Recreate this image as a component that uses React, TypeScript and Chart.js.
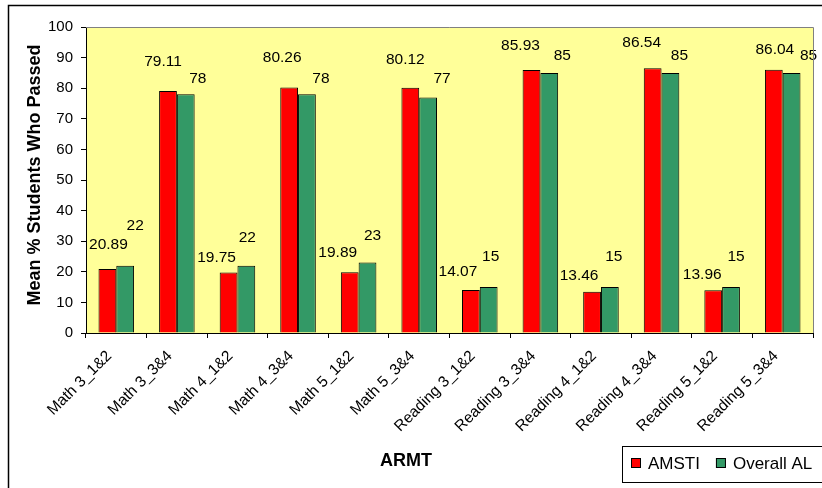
import { useEffect, useRef } from "react";
import { Chart, registerables } from "chart.js";

Chart.register(...registerables);

const FONT = '"Liberation Sans", Arial, Helvetica, sans-serif';

// ARMT result groups
const categories = [
  "Math 3_1&2",
  "Math 3_3&4",
  "Math 4_1&2",
  "Math 4_3&4",
  "Math 5_1&2",
  "Math 5_3&4",
  "Reading 3_1&2",
  "Reading 3_3&4",
  "Reading 4_1&2",
  "Reading 4_3&4",
  "Reading 5_1&2",
  "Reading 5_3&4",
];

// Mean % of students who passed
const amstiValues = [20.89, 79.11, 19.75, 80.26, 19.89, 80.12, 14.07, 85.93, 13.46, 86.54, 13.96, 86.04];
const overallValues = [22, 78, 22, 78, 23, 77, 15, 85, 15, 85, 15, 85];

const seriesNames = ["AMSTI", "Overall AL"];
const seriesColors = ["#FF0000", "#339966"];

// Value axis range
const yMin = 0;
const yMax = 100;
const yStep = 10;

// Hand-placed value labels: [dx, dy] in px from the top centre of each bar
const amstiLabelNudge = [
  [1, -24], [-5, -29], [-12, -15], [-7, -30], [-12, -19], [-5, -28],
  [-13, -18], [-11, -24], [-13, -16], [-11, -25], [-11, -16], [1, -20],
];
const overallLabelNudge = [
  [10, -40], [12, -16], [1, -28], [14, -16], [5, -27], [14, -19],
  [2, -30], [13, -17], [4, -30], [9, -17], [5, -30], [17, -17],
];

const chartDecor = {
  id: "chartDecor",
  beforeDraw(chart: any) {
    const { ctx, chartArea: a, width, height } = chart;
    ctx.save();
    ctx.fillStyle = "#FFFFFF";
    ctx.fillRect(0, 0, width, height);
    // outer chart frame
    ctx.strokeStyle = "#000000";
    ctx.lineWidth = 1.5;
    ctx.beginPath();
    ctx.moveTo(8.5, height + 2);
    ctx.lineTo(8.5, 5.5);
    ctx.lineTo(width + 2, 5.5);
    ctx.stroke();
    // plot area fill
    ctx.fillStyle = "#FFFF99";
    ctx.fillRect(a.left, a.top, a.right - a.left, a.bottom - a.top);
    ctx.restore();
  },
  afterDatasetsDraw(chart: any) {
    const { ctx } = chart;
    const nudges = [amstiLabelNudge, overallLabelNudge];
    ctx.save();
    ctx.font = `15.5px ${FONT}`;
    ctx.fillStyle = "#000000";
    ctx.textAlign = "center";
    ctx.textBaseline = "middle";
    chart.data.datasets.forEach((ds: any, i: number) => {
      const meta = chart.getDatasetMeta(i);
      meta.data.forEach((bar: any, j: number) => {
        const [dx, dy] = nudges[i][j];
        ctx.fillText(String(ds.data[j]), bar.x + dx, bar.y + dy);
      });
    });
    ctx.restore();
  },
  afterDraw(chart: any) {
    const { ctx, chartArea: a } = chart;
    ctx.save();
    // grey top and right edges of the plot area
    ctx.strokeStyle = "#808080";
    ctx.lineWidth = 1;
    ctx.beginPath();
    ctx.moveTo(a.left, a.top + 0.5);
    ctx.lineTo(a.right + 0.5, a.top + 0.5);
    ctx.lineTo(a.right + 0.5, a.bottom);
    ctx.stroke();

    // axis titles
    ctx.fillStyle = "#000000";
    ctx.font = `bold 18px ${FONT}`;
    ctx.textAlign = "center";
    ctx.textBaseline = "middle";
    ctx.fillText("ARMT", 406, 461);
    ctx.save();
    ctx.translate(35, 175);
    ctx.rotate(-Math.PI / 2);
    ctx.fillText("Mean % Students Who Passed", 0, 0);
    ctx.restore();

    // legend
    const bx = 622.5;
    const by = 446.5;
    ctx.strokeStyle = "#000000";
    ctx.lineWidth = 1;
    ctx.strokeRect(bx, by, 230, 36);
    ctx.font = `17px ${FONT}`;
    ctx.textAlign = "left";
    ctx.textBaseline = "middle";
    let x = 631;
    const cy = 463;
    chart.data.datasets.forEach((ds: any) => {
      ctx.fillStyle = ds.backgroundColor;
      ctx.fillRect(x, cy - 5, 10, 10);
      ctx.strokeStyle = "#000000";
      ctx.strokeRect(x + 0.5, cy - 5 + 0.5, 9, 9);
      ctx.fillStyle = "#000000";
      ctx.fillText(ds.label, x + 17, cy + 1);
      x += 17 + ctx.measureText(ds.label).width + 16;
    });
    ctx.restore();
  },
};

export default function App() {
  const canvasRef = useRef<HTMLCanvasElement | null>(null);

  useEffect(() => {
    const canvas = canvasRef.current;
    if (!canvas) return;
    const chart = new Chart(canvas, {
      type: "bar",
      data: {
        labels: categories,
        datasets: [
          {
            label: seriesNames[0],
            data: amstiValues,
            backgroundColor: seriesColors[0],
            borderColor: "#000000",
            borderWidth: 1,
            categoryPercentage: 0.587,
            barPercentage: 1,
          },
          {
            label: seriesNames[1],
            data: overallValues,
            backgroundColor: seriesColors[1],
            borderColor: "#000000",
            borderWidth: 1,
            categoryPercentage: 0.587,
            barPercentage: 1,
          },
        ],
      },
      options: {
        responsive: false,
        animation: false,
        layout: { padding: { left: 0, top: 27, right: 9, bottom: 0 } },
        plugins: {
          legend: { display: false },
          title: { display: false },
          tooltip: { enabled: false },
        },
        scales: {
          x: {
            offset: true,
            grid: {
              display: true,
              drawOnChartArea: false,
              drawTicks: true,
              tickLength: 5,
              color: "#000000",
              offset: true,
            },
            border: { display: true, color: "#000000", width: 1 },
            ticks: {
              autoSkip: false,
              maxRotation: 45,
              minRotation: 45,
              color: "#000000",
              padding: 9,
              labelOffset: -7,
              font: { family: FONT, size: 15.5 },
            },
            afterFit(scale: any) {
              scale.height = 155;
            },
          },
          y: {
            min: yMin,
            max: yMax,
            grid: {
              display: true,
              drawOnChartArea: false,
              drawTicks: true,
              tickLength: 5,
              color: "#000000",
            },
            border: { display: true, color: "#000000", width: 1 },
            ticks: {
              stepSize: yStep,
              color: "#000000",
              padding: 8,
              font: { family: FONT, size: 15 },
            },
            afterFit(scale: any) {
              scale.width = 86;
            },
          },
        },
      },
      plugins: [chartDecor],
    });
    return () => chart.destroy();
  }, []);

  return (
    <div style={{ position: "fixed", left: 0, top: 0, width: 822, height: 488, background: "#fff" }}>
      <canvas ref={canvasRef} width={822} height={488} style={{ display: "block" }} />
    </div>
  );
}
